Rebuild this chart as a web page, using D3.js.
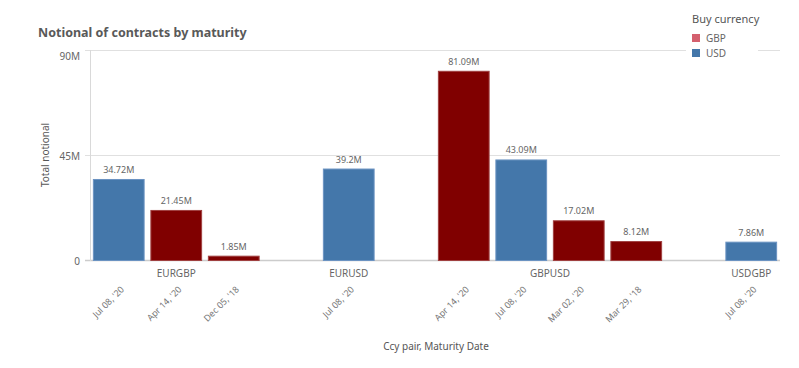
<!DOCTYPE html>
<html lang="en">
<head>
    <meta charset="UTF-8">
    <title>Notional of contracts by maturity</title>
    <script type="text/javascript" src="https://cdn.jsdelivr.net/npm/d3@7"></script>
    <style>
        body { margin: 0; background: #fff; }
        text { font-family: "Noto Sans", "DejaVu Sans", sans-serif; }
    </style>
</head>
<body>
<script type="text/javascript">
    var w = 799;
    var h = 368;

    // one entry per bar, in drawing order
    var pairs = ["EURGBP", "EURGBP", "EURGBP", "EURUSD", "GBPUSD", "GBPUSD", "GBPUSD", "GBPUSD", "USDGBP"];
    var dates = ["Jul 08, '20", "Apr 14, '20", "Dec 05, '18", "Jul 08, '20", "Apr 14, '20", "Jul 08, '20", "Mar 02, '20", "Mar 29, '18", "Jul 08, '20"];
    var currencies = ["USD", "GBP", "GBP", "USD", "GBP", "USD", "GBP", "GBP", "USD"];
    var values = [34.72, 21.45, 1.85, 39.2, 81.09, 43.09, 17.02, 8.12, 7.86];

    var yTicks = [0, 45, 90];
    var legendItems = ["GBP", "USD"];

    var barColor = { GBP: "#800000", USD: "#4477aa" };
    var barStroke = { GBP: "#a04040", USD: "#6b93c2" };
    var legendColor = { GBP: "#d4606e", USD: "#4477aa" };

    var dataset = values.map(function (v, i) {
        return { pair: pairs[i], date: dates[i], cur: currencies[i], value: v, key: pairs[i] + "|" + i };
    });

    // slots: bars plus one empty slot between pair groups
    var groups = Array.from(new Set(pairs));
    var slots = [];
    groups.forEach(function (g, gi) {
        if (gi > 0) slots.push("gap" + gi);
        dataset.filter(function (d) { return d.pair === g; }).forEach(function (d) { slots.push(d.key); });
    });

    var svg = d3.select("body")
        .append("svg")
        .attr("width", w)
        .attr("height", h);

    var x = d3.scaleBand()
        .domain(slots)
        .range([90, 780])
        .paddingInner(0.1)
        .paddingOuter(0.05);

    var y = d3.scaleLinear()
        .domain([0, 90])
        .range([260, 50]);

    // title
    svg.append("text")
        .attr("x", 38)
        .attr("y", 37)
        .attr("font-size", "12.5px")
        .attr("font-weight", "bold")
        .attr("fill", "#595959")
        .text("Notional of contracts by maturity");

    // gridlines
    svg.selectAll("line.grid")
        .data(yTicks).enter()
        .append("line")
        .attr("class", "grid")
        .attr("x1", 85)
        .attr("x2", 780)
        .attr("y1", function (d) { return Math.round(y(d)) + 0.5; })
        .attr("y2", function (d) { return Math.round(y(d)) + 0.5; })
        .attr("stroke", function (d) { return d === 0 ? "#cccccc" : "#e0e0e0"; })
        .attr("stroke-width", function (d) { return d === 0 ? 1.5 : 1; });

    svg.append("line")
        .attr("x1", 90.5).attr("x2", 90.5)
        .attr("y1", 50).attr("y2", 261)
        .attr("stroke", "#d9d9d9");

    svg.selectAll("text.ytick")
        .data(yTicks).enter()
        .append("text")
        .attr("class", "ytick")
        .attr("x", 80)
        .attr("y", function (d) { return d === 90 ? y(d) + 10 : y(d) + 5; })
        .attr("text-anchor", "end")
        .attr("font-size", "10px")
        .attr("fill", "#666")
        .text(function (d) { return d === 0 ? "0" : d + "M"; });

    svg.append("text")
        .attr("transform", "translate(49,155) rotate(-90)")
        .attr("text-anchor", "middle")
        .attr("font-size", "10px")
        .attr("fill", "#555")
        .text("Total notional");

    // bars
    svg.selectAll("rect.bar")
        .data(dataset).enter()
        .append("rect")
        .attr("class", "bar")
        .attr("x", function (d) { return x(d.key) + 0.5; })
        .attr("width", x.bandwidth() - 1)
        .attr("y", function (d) { return y(d.value) + 0.5; })
        .attr("height", function (d) { return y(0) - y(d.value); })
        .attr("fill", function (d) { return barColor[d.cur]; })
        .attr("stroke", function (d) { return barStroke[d.cur]; })
        .attr("stroke-width", 1);

    svg.selectAll("text.val")
        .data(dataset).enter()
        .append("text")
        .attr("class", "val")
        .attr("x", function (d) { return x(d.key) + x.bandwidth() / 2; })
        .attr("y", function (d) { return y(d.value) - 6; })
        .attr("text-anchor", "middle")
        .attr("font-size", "9px")
        .attr("fill", "#666")
        .text(function (d) { return d.value + "M"; });

    // group labels
    svg.selectAll("text.group")
        .data(groups).enter()
        .append("text")
        .attr("class", "group")
        .attr("x", function (g) {
            var ks = dataset.filter(function (d) { return d.pair === g; }).map(function (d) { return d.key; });
            return (x(ks[0]) + x(ks[ks.length - 1]) + x.bandwidth()) / 2;
        })
        .attr("y", 277)
        .attr("text-anchor", "middle")
        .attr("font-size", "10px")
        .attr("fill", "#666")
        .text(function (g) { return g; });

    // date labels
    svg.selectAll("text.date")
        .data(dataset).enter()
        .append("text")
        .attr("class", "date")
        .attr("transform", function (d) {
            return "translate(" + (x(d.key) + x.bandwidth() / 2 + 6) + ",290) rotate(-45)";
        })
        .attr("text-anchor", "end")
        .attr("font-size", "9px")
        .attr("fill", "#777")
        .text(function (d) { return d.date; });

    svg.append("text")
        .attr("x", 436)
        .attr("y", 350)
        .attr("text-anchor", "middle")
        .attr("font-size", "10px")
        .attr("fill", "#555")
        .text("Ccy pair, Maturity Date");

    // legend
    svg.append("rect")
        .attr("x", 686).attr("y", 8)
        .attr("width", 72).attr("height", 55)
        .attr("fill", "#fff");

    svg.append("text")
        .attr("x", 692)
        .attr("y", 23)
        .attr("font-size", "11px")
        .attr("fill", "#555")
        .text("Buy currency");

    var leg = svg.selectAll("g.leg")
        .data(legendItems).enter()
        .append("g")
        .attr("class", "leg")
        .attr("transform", function (d, i) { return "translate(692," + (34 + i * 15) + ")"; });

    leg.append("rect")
        .attr("width", 8).attr("height", 8)
        .attr("fill", function (d) { return legendColor[d]; });

    leg.append("text")
        .attr("x", 14)
        .attr("y", 7.5)
        .attr("font-size", "10px")
        .attr("fill", "#666")
        .text(function (d) { return d; });
</script>
</body>
</html>
